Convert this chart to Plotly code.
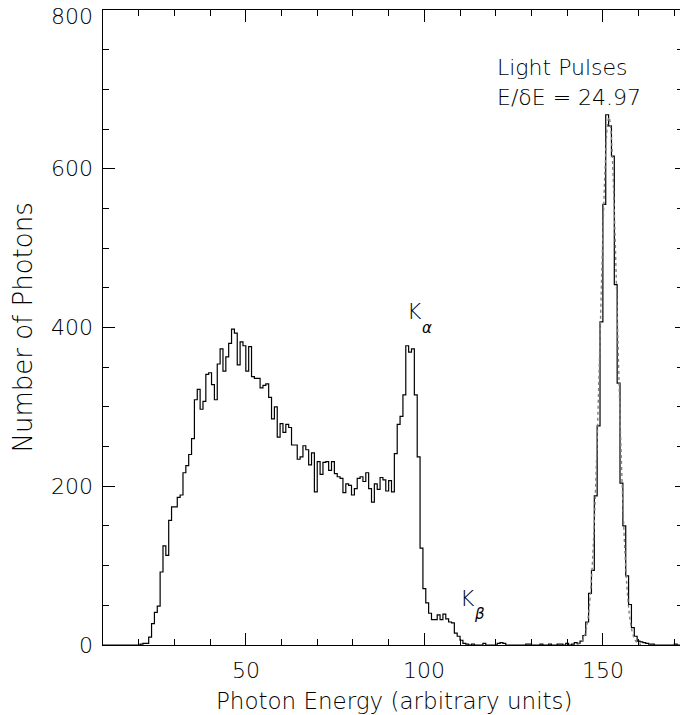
import plotly.graph_objects as go

# ---- data ----
bin_start = 10.0
bin_width = 0.8
counts = [
    0, 0, 0, 0, 0, 0, 0, 0, 0, 0,
    0, 0, 0, 1, 2, 2, 10, 27, 41, 49,
    92, 125, 113, 157, 174, 174, 186, 189, 217, 226,
    240, 260, 309, 322, 297, 307, 341, 343, 328, 309,
    354, 373, 345, 363, 380, 398, 393, 353, 382, 377,
    345, 376, 338, 336, 336, 324, 327, 329, 312, 285,
    300, 262, 279, 268, 278, 274, 252, 252, 234, 237,
    251, 246, 227, 242, 193, 231, 215, 230, 231, 220,
    231, 216, 212, 210, 192, 203, 201, 189, 197, 210,
    212, 206, 217, 197, 180, 203, 196, 211, 208, 194,
    207, 193, 241, 278, 288, 315, 377, 369, 373, 315,
    237, 122, 71, 53, 40, 32, 32, 38, 32, 39,
    33, 29, 28, 15, 11, 6, 2, 1, 0, 1,
    0, 0, 0, 2, 0, 0, 0, 0, 2, 3,
    2, 0, 0, 0, 0, 0, 0, 0, 1, 1,
    0, 0, 0, 1, 0, 0, 1, 0, 0, 1,
    1, 0, 2, 0, 1, 3, 2, 5, 12, 29,
    65, 94, 188, 276, 407, 555, 668, 654, 616, 454,
    330, 204, 150, 87, 51, 22, 11, 5, 4, 3,
    2, 1, 1, 0, 0, 0, 0, 0, 0, 0,
    1, 0,
]

fit_x = [142.7, 143.2, 143.7, 144.2, 144.7, 145.2, 145.7, 146.2, 146.7, 147.2,
         147.7, 148.2, 148.7, 149.2, 149.7, 150.2, 150.7, 151.2, 151.7, 152.2,
         152.7, 153.2, 153.7, 154.2, 154.7, 155.2, 155.7, 156.2, 156.7, 157.2,
         157.7, 158.2, 158.7, 159.2, 159.7, 160.2, 160.7]
fit_y = [0.6, 1.3, 2.6, 5, 9.5, 17, 29, 48, 76, 115,
         166, 230, 304, 387, 470, 547, 610, 651, 665, 651,
         610, 547, 470, 387, 304, 230, 166, 115, 76, 48,
         29, 17, 9.5, 5, 2.6, 1.3, 0.6]

x_range = [10, 171.6]
y_range = [0, 800]
x_tick_vals = [50, 100, 150]
x_tick_text = ["50", "100", "150"]
y_tick_vals = [0, 200, 400, 600, 800]
y_tick_text = ["0", "200", "400", "600", "800"]
x_title = "Photon Energy (arbitrary units)"
y_title = "Number of Photons"

# ---- build ----
edges = [bin_start + bin_width * i for i in range(len(counts) + 1)]
step_y = counts + [counts[-1]]

FONT = "DejaVu Sans"
fig = go.Figure()
fig.add_trace(go.Scatter(x=edges, y=step_y, mode="lines",
                         line=dict(shape="hv", color="black", width=1.2),
                         hoverinfo="skip", showlegend=False))
fig.add_trace(go.Scatter(x=fit_x, y=fit_y, mode="lines",
                         line=dict(shape="spline", color="#808080", width=1.4, dash="dot"),
                         hoverinfo="skip", showlegend=False))
fig.add_trace(go.Scatter(x=[x_range[0]], y=[0], yaxis="y2", mode="markers",
                         marker=dict(opacity=0), hoverinfo="skip", showlegend=False))

axis_common = dict(showline=True, linecolor="black", linewidth=1,
                   ticks="inside", ticklen=12, tickwidth=1, tickcolor="black",
                   tickmode="linear", tick0=0, automargin=False,
                   showgrid=False, zeroline=False, showticklabels=False)
fig.update_layout(
    width=680, height=715,
    margin=dict(l=103, r=0, t=10, b=70, autoexpand=False),
    paper_bgcolor="white", plot_bgcolor="white",
    font=dict(family=FONT, size=22, color="black", weight=200),
    showlegend=False,
    xaxis=dict(range=x_range, mirror="ticks", dtick=50,
               minor=dict(ticks="inside", ticklen=6, tickwidth=1, tickcolor="black",
                          tick0=0, dtick=10, showgrid=False),
               **axis_common),
    yaxis=dict(range=y_range, mirror=False, dtick=200,
               minor=dict(ticks="inside", ticklen=6, tickwidth=1, tickcolor="black",
                          tick0=0, dtick=50, showgrid=False),
               **axis_common),
    yaxis2=dict(range=y_range, overlaying="y", side="right", showline=False,
                ticks="inside", ticklen=5, tickwidth=1, tickcolor="black",
                tickmode="linear", tick0=0, dtick=200, showticklabels=False,
                automargin=False,
                minor=dict(ticks="inside", ticklen=3, tickwidth=1, tickcolor="black",
                           tick0=0, dtick=50, showgrid=False),
                showgrid=False, zeroline=False),
)

lab_font = dict(family=FONT, size=22, color="black", weight=200)
title_font = dict(family=FONT, size=23, color="black", weight=200)
ytitle_font = dict(family=FONT, size=26, color="black", weight=200)
sub_font = dict(family=FONT, size=15, color="black", weight=200, style="italic")

# tick labels
for v, t in zip(x_tick_vals, x_tick_text):
    fig.add_annotation(x=v, y=0, xref="x", yref="paper", text=t, showarrow=False,
                       xanchor="center", yanchor="middle", yshift=-25, font=lab_font)
for v, t in zip(y_tick_vals, y_tick_text):
    fig.add_annotation(x=0, y=v, xref="paper", yref="y", text=t, showarrow=False,
                       xanchor="right", yanchor="middle", xshift=-8,
                       yshift=(-6 if v == y_range[1] else 0), font=lab_font)

# axis titles
fig.add_annotation(x=91.5, y=0, xref="x", yref="paper", text=x_title,
                   showarrow=False, xanchor="center", yanchor="top", yshift=-41,
                   font=title_font)
fig.add_annotation(x=0, y=0.5, xref="paper", yref="paper", text=y_title,
                   showarrow=False, xanchor="center", yanchor="middle", xshift=-81,
                   textangle=-90, font=ytitle_font)

# labels in the plot
fig.add_annotation(x=119.7, y=727, xref="x", yref="y", text="Light Pulses",
                   showarrow=False, xanchor="left", yanchor="middle", font=lab_font)
fig.add_annotation(x=119.7, y=690, xref="x", yref="y", text="E/δE = 24.97",
                   showarrow=False, xanchor="left", yanchor="middle", font=lab_font)
fig.add_annotation(x=97.2, y=420, xref="x", yref="y", text="K",
                   showarrow=False, xanchor="center", yanchor="middle", font=lab_font)
fig.add_annotation(x=100.7, y=400, xref="x", yref="y", text="α",
                   showarrow=False, xanchor="center", yanchor="middle", font=sub_font)
fig.add_annotation(x=112.1, y=59, xref="x", yref="y", text="K",
                   showarrow=False, xanchor="center", yanchor="middle", font=lab_font)
fig.add_annotation(x=115.5, y=39, xref="x", yref="y", text="β",
                   showarrow=False, xanchor="center", yanchor="middle", font=sub_font)

fig.write_html("out.html", config=dict(displayModeBar=False),
               post_script="document.body.style.margin='0px';document.body.style.overflow='hidden';")
